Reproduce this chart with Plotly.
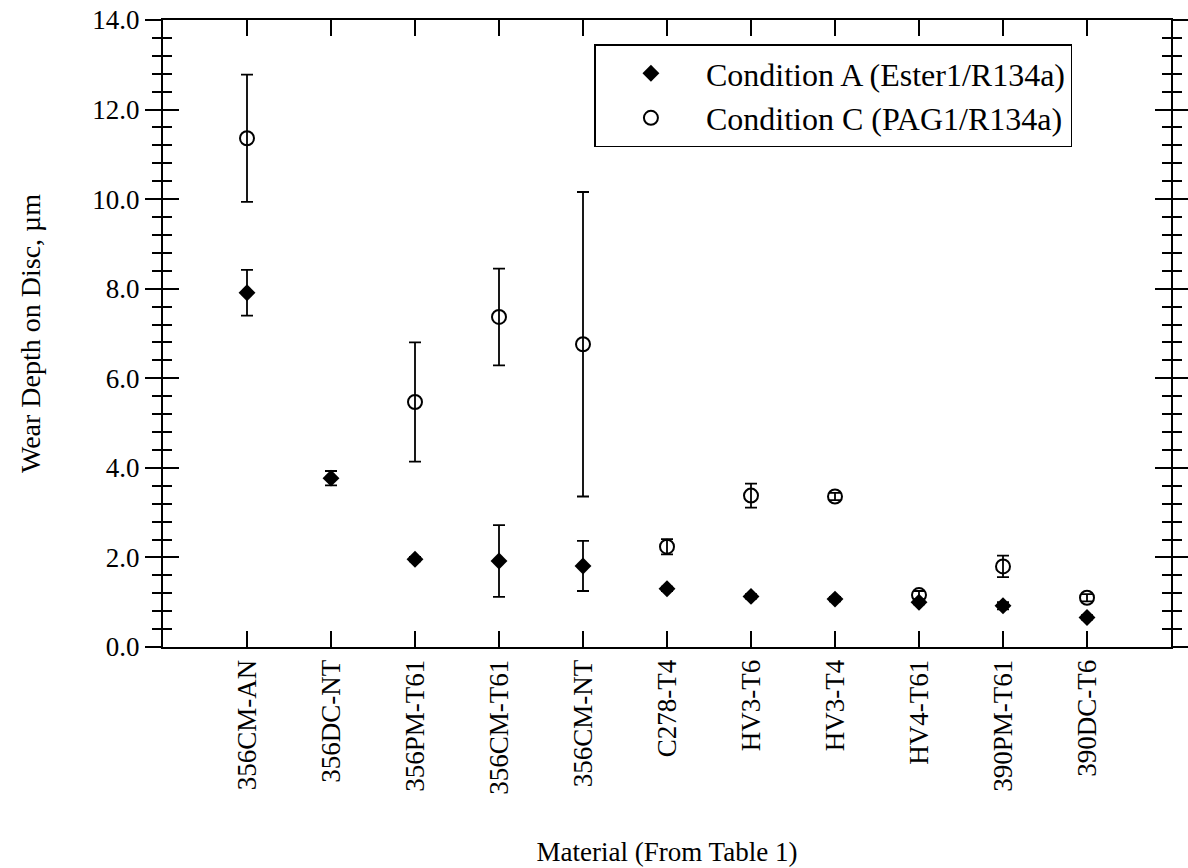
import plotly.graph_objects as go

materials = ["356CM-AN", "356DC-NT", "356PM-T61", "356CM-T61", "356CM-NT", "C278-T4",
             "HV3-T6", "HV3-T4", "HV4-T61", "390PM-T61", "390DC-T6"]
cond_a = [7.91, 3.77, 1.96, 1.92, 1.81, 1.30, 1.13, 1.07, 1.00, 0.92, 0.66]
cond_a_err = [0.51, 0.16, 0.05, 0.80, 0.56, 0.05, 0.05, 0.05, 0.05, 0.08, 0.05]
cond_c = [11.36, None, 5.47, 7.37, 6.76, 2.24, 3.38, 3.36, 1.16, 1.80, 1.10]
cond_c_err = [1.42, None, 1.33, 1.08, 3.40, 0.17, 0.27, 0.08, 0.09, 0.24, 0.08]
y_ticks = [0, 2, 4, 6, 8, 10, 12, 14]
y_tick_text = ["0.0", "2.0", "4.0", "6.0", "8.0", "10.0", "12.0", "14.0"]

xpos = list(range(len(materials)))
FONT = "Liberation Serif"

fig = go.Figure()
fig.add_trace(go.Scatter(
    x=xpos, y=cond_a, mode="markers", name="Condition A (Ester1/R134a)",
    legendgroup="a",
    marker=dict(symbol="diamond", size=13, color="black"),
    error_y=dict(type="data", array=cond_a_err, visible=True, color="black",
                 thickness=1.8, width=6),
))
fig.add_trace(go.Scatter(
    x=xpos, y=cond_c, mode="markers", name="Condition C (PAG1/R134a)",
    legendgroup="c",
    marker=dict(symbol="circle-open", size=14, color="black", line=dict(width=2, color="black")),
    error_y=dict(type="data", array=cond_c_err, visible=True, color="black",
                 thickness=1.8, width=6),
))
# invisible trace to carry the overlaid y axis (inside ticks)
fig.add_trace(go.Scatter(x=[None], y=[None], yaxis="y2", showlegend=False, hoverinfo="skip"))

fig.update_layout(
    width=1188, height=868,
    margin=dict(l=163, r=17, t=20, b=221),
    paper_bgcolor="white", plot_bgcolor="white",
    font=dict(family=FONT, size=27, color="black"),
    showlegend=True,
    legend=dict(
        x=0.428, y=0.961, xanchor="left", yanchor="top",
        bordercolor="black", borderwidth=1.5, bgcolor="white",
        font=dict(family=FONT, size=32, color="black"),
        itemwidth=100, traceorder="grouped", tracegroupgap=0,
    ),
    xaxis=dict(
        range=[-1, 11], tickmode="array", tickvals=xpos, ticktext=materials,
        tickangle=-90, ticks="inside", ticklen=16, tickwidth=1.7, tickcolor="black",
        showline=True, linecolor="black", linewidth=2, mirror="ticks",
        showgrid=False, zeroline=False, automargin=False,
        tickfont=dict(family=FONT, size=27, color="black"),
        title=dict(text="Material (From Table 1)", standoff=48,
                   font=dict(family=FONT, size=27, color="black")),
    ),
    yaxis=dict(
        range=[0, 14], tickmode="array", tickvals=y_ticks, ticktext=y_tick_text,
        ticks="outside", ticklen=16, tickwidth=1.7, tickcolor="black",
        minor=dict(dtick=0.4, ticks="outside", ticklen=9, tickwidth=1.7, tickcolor="black", showgrid=False),
        showline=True, linecolor="black", linewidth=2, mirror="ticks",
        showgrid=False, zeroline=False, automargin=False,
        tickfont=dict(family=FONT, size=27, color="black"),
        title=dict(text="Wear Depth on Disc, µm", standoff=44,
                   font=dict(family=FONT, size=28, color="black")),
    ),
    yaxis2=dict(
        overlaying="y", side="left", range=[0, 14], tickmode="array", tickvals=y_ticks,
        showticklabels=False,
        ticks="inside", ticklen=16, tickwidth=1.7, tickcolor="black",
        minor=dict(dtick=0.4, ticks="inside", ticklen=9, tickwidth=1.7, tickcolor="black", showgrid=False),
        showline=False, mirror="ticks", automargin=False,
        showgrid=False, zeroline=False,
    ),
)

fig.write_html("out.html")
